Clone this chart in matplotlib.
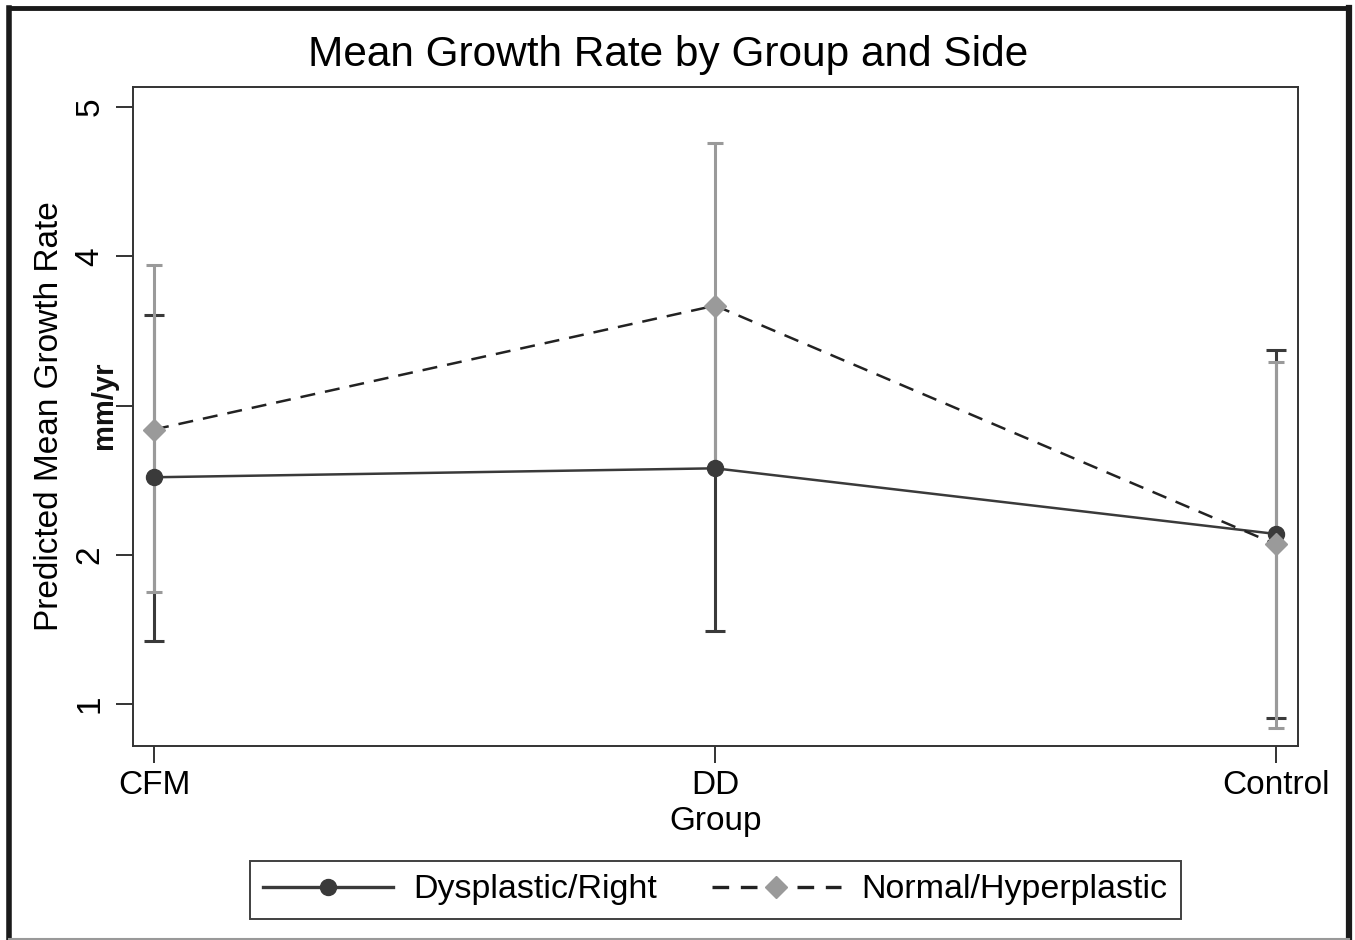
import numpy as np
import matplotlib.pyplot as plt
from matplotlib.lines import Line2D

plt.rcParams['font.family'] = ['Liberation Sans', 'DejaVu Sans']

# predicted mean growth rate (mm/yr) with 95% CI
groups = ["CFM", "DD", "Control"]
dys_mean = [2.52, 2.58, 2.14]
dys_low = [1.42, 1.49, 0.91]
dys_high = [3.61, 3.67, 3.37]
norm_mean = [2.84, 3.67, 2.07]
norm_low = [1.75, 2.58, 0.84]
norm_high = [3.94, 4.76, 3.29]

dark = "#3a3a3a"
grey = "#9a9a9a"

x = np.arange(len(groups))

fig = plt.figure(figsize=(13.55, 9.4), dpi=100)
ax = fig.add_axes([0.0982, 0.2064, 0.8598, 0.701])

# confidence intervals first, grey drawn over dark
ax.errorbar(x, dys_mean, yerr=[np.subtract(dys_mean, dys_low), np.subtract(dys_high, dys_mean)],
            fmt="none", ecolor=dark, elinewidth=2.2, capsize=7, capthick=2.2, zorder=2)
ax.errorbar(x, norm_mean, yerr=[np.subtract(norm_mean, norm_low), np.subtract(norm_high, norm_mean)],
            fmt="none", ecolor=grey, elinewidth=2.2, capsize=6, capthick=2.2, zorder=3)

dys_line, = ax.plot(x, dys_mean, color=dark, lw=1.8, marker="o", ms=11.5,
                    mfc=dark, mec=dark, zorder=4)
norm_line, = ax.plot(x, norm_mean, color="#222222", lw=1.8, ls=(0, (6, 4)), marker="D",
                     ms=11, mfc=grey, mec=grey, zorder=5)

ax.set_xlim(-0.0374, 2.039)
ax.set_ylim(0.72, 5.134)
ax.set_xticks(x)
ax.set_xticklabels(groups, fontsize=24)
ax.set_yticks([1, 2, 3, 4, 5])
ax.set_yticklabels(["1", "2", "", "4", "5"], fontsize=24, rotation=90, va="center")
ax.tick_params(axis="both", length=12, width=1.4, color="#333333", direction="out")
ax.tick_params(axis="y", pad=8)
ax.tick_params(axis="x", pad=5)
for sp in ax.spines.values():
    sp.set_linewidth(1.4)
    sp.set_color("#333333")

ax.set_xlabel("Group", fontsize=24, labelpad=4)
ax.set_ylabel("Predicted Mean Growth Rate", fontsize=24)
ax.yaxis.set_label_coords(-0.058, 0.5)
ax.text(-0.0125, 3, "mm/yr", transform=ax.get_yaxis_transform(), rotation=90,
        ha="right", va="center", fontsize=21, fontweight="bold", color="#111111")

fig.text(0.493, 0.941, "Mean Growth Rate by Group and Side", ha="center", va="center",
         fontsize=30.5)

leg_dys = Line2D([], [], color=dark, lw=2.4, marker="o", ms=11.5, mfc=dark, mec=dark)
leg_norm = Line2D([], [], color="#222222", lw=2.4, ls=(0, (5, 3.5)), marker="D", ms=11,
                  mfc=grey, mec=grey)
leg = fig.legend([leg_dys, leg_norm], ["Dysplastic/Right", "Normal/Hyperplastic"],
                 loc="center", bbox_to_anchor=(0.528, 0.0532), ncol=2, fontsize=24.5,
                 frameon=True, fancybox=False, handlelength=3.8, handletextpad=0.6,
                 columnspacing=1.6, borderpad=0.4, borderaxespad=0)
leg.get_frame().set_edgecolor("#111111")
leg.get_frame().set_linewidth(1.4)

# outer frame around the graph region
fig.add_artist(Line2D([0.0066, 0.9956], [0.9915, 0.9915], color="#1a1a1a", lw=3.5))
fig.add_artist(Line2D([0.0066, 0.0066], [0.0, 0.9915], color="#1a1a1a", lw=4))
fig.add_artist(Line2D([0.9956, 0.9956], [0.0, 0.9915], color="#1a1a1a", lw=4.5))
fig.add_artist(Line2D([0.0066, 0.9956], [0.0015, 0.0015], color="#999999", lw=1.5))

fig.savefig("out.png", dpi=100)
